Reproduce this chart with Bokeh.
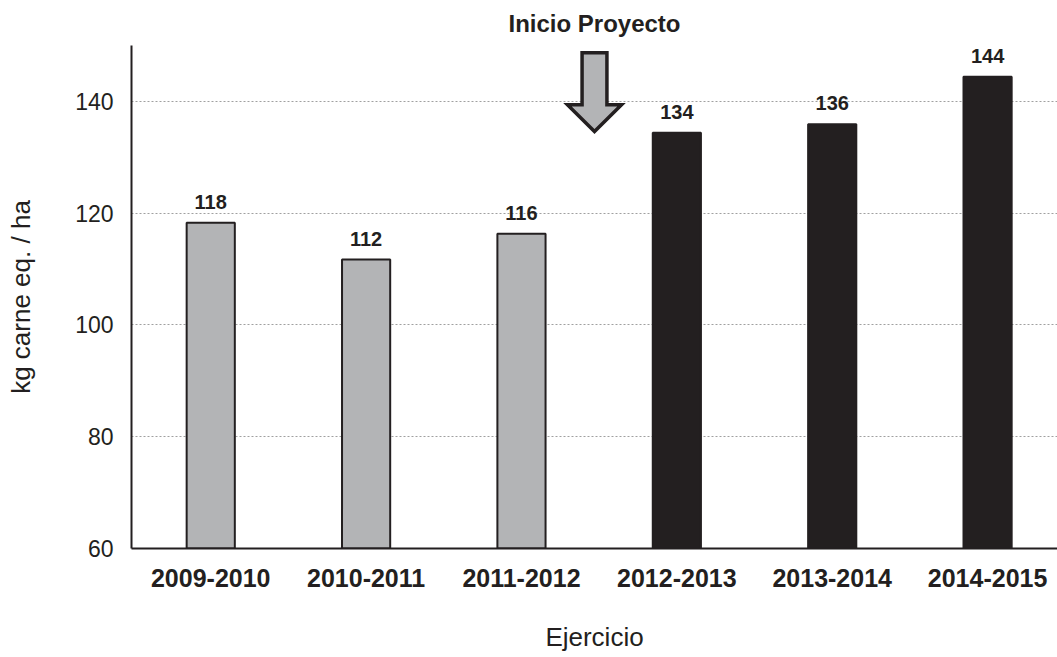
from bokeh.plotting import figure
from bokeh.models import Range1d, ColumnDataSource, FixedTicker
from bokeh.embed import file_html
from bokeh.resources import INLINE
from bokeh.core.properties import value

# ---- data ----
ejercicios = ["2009-2010", "2010-2011", "2011-2012", "2012-2013", "2013-2014", "2014-2015"]
kg_carne = [118.3, 111.7, 116.3, 134.4, 135.9, 144.4]
etiquetas = ["118", "112", "116", "134", "136", "144"]
periodo = ["antes", "antes", "antes", "proyecto", "proyecto", "proyecto"]
y_ticks = [60, 80, 100, 120, 140]
grid_ticks = [80, 100, 120, 140]

color_map = {"antes": "#b3b4b6", "proyecto": "#231f20"}
colors = [color_map[p] for p in periodo]
pos = list(range(len(ejercicios)))

TXT = "#231f20"
FONT = "Liberation Sans"

p = figure(x_range=Range1d(-0.51, 5.45), y_range=Range1d(60, 150),
           width=1057, height=657, output_backend="svg", toolbar_location=None,
           min_border_left=131, min_border_right=0, min_border_top=45, min_border_bottom=109,
           title="Inicio Proyecto")
p.outline_line_color = None
p.background_fill_color = "white"

p.title.align = "center"
p.title.vertical_align = "top"
p.title.text_font = FONT
p.title.text_font_size = "24px"
p.title.text_font_style = "bold"
p.title.text_color = TXT
p.title.standoff = 14

src = ColumnDataSource(dict(x=pos, top=kg_carne, color=colors, label=etiquetas))
p.vbar(x="x", top="top", bottom=60, width=0.31, fill_color="color", line_color="#231f20",
       line_width=2, source=src)
p.text(x="x", y="top", text="label", source=src, text_align="center", text_baseline="bottom",
       y_offset=-14, text_font=value(FONT), text_font_size="20px", text_font_style="bold",
       text_color=TXT)

# project-start arrow (between 2011-2012 and 2012-2013)
ax = 2.47
shaft_hw, head_hw = 0.08, 0.174
y_top, y_head, y_tip = 148.7, 139.4, 134.6
p.patch(x=[ax - shaft_hw, ax + shaft_hw, ax + shaft_hw, ax + head_hw, ax, ax - head_hw, ax - shaft_hw],
        y=[y_top, y_top, y_head, y_head, y_tip, y_head, y_head],
        fill_color="#b3b4b6", line_color="#231f20", line_width=3.5, line_join="miter")

# axes
p.xaxis.ticker = FixedTicker(ticks=pos)
p.xaxis.major_label_overrides = {i: e for i, e in zip(pos, ejercicios)}
p.yaxis.ticker = FixedTicker(ticks=y_ticks)
p.yaxis.axis_label = "kg carne eq. / ha"
p.xaxis.axis_label = "Ejercicio"
for ax_ in (p.xaxis, p.yaxis):
    ax_.major_tick_line_color = None
    ax_.minor_tick_line_color = None
    ax_.axis_line_color = "#231f20"
    ax_.axis_line_width = 2
    ax_.major_label_text_color = TXT
    ax_.major_label_text_font = FONT
    ax_.axis_label_text_font = FONT
    ax_.axis_label_text_font_style = "normal"
    ax_.axis_label_text_font_size = "26px"
    ax_.axis_label_text_color = TXT
p.yaxis.major_label_text_font_size = "23px"
p.yaxis.major_label_standoff = 12
p.yaxis.axis_label_standoff = 36
p.xaxis.major_label_text_font_size = "25px"
p.xaxis.major_label_text_font_style = "bold"
p.xaxis.major_label_standoff = 14
p.xaxis.axis_label_standoff = 32

p.xgrid.grid_line_color = None
p.ygrid.ticker = FixedTicker(ticks=grid_ticks)
p.ygrid.grid_line_color = "#a0a0a0"
p.ygrid.grid_line_dash = "2 2"
p.ygrid.grid_line_width = 1

open("out.html", "w").write(file_html(p, INLINE))
